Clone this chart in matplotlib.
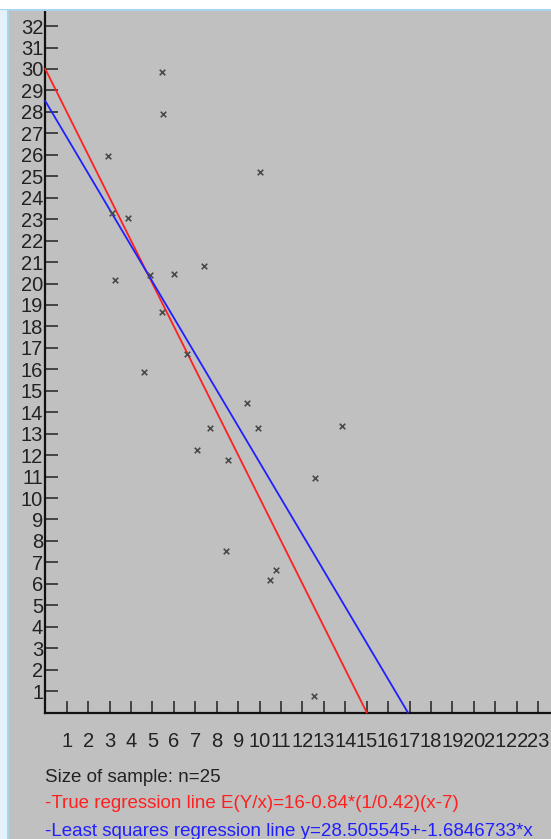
import matplotlib
matplotlib.use("Agg")
import matplotlib.pyplot as plt
from matplotlib.patches import Rectangle

plt.rcParams['font.family'] = ['Liberation Sans', 'DejaVu Sans']

# sample points
xs = [2.94, 3.10, 3.87, 3.25, 5.43, 5.51, 10.02, 6.01, 7.41, 4.89, 5.43, 6.60,
      4.61, 9.43, 7.69, 9.94, 7.09, 8.54, 13.86, 12.59, 8.43, 10.77, 10.49, 12.55]
ys = [25.94, 23.27, 23.07, 20.16, 29.85, 27.90, 25.18, 20.43, 20.83, 20.40, 18.66, 16.70,
      15.86, 14.42, 13.25, 13.25, 12.24, 11.77, 13.36, 10.92, 7.54, 6.65, 6.18, 0.77]

# regression lines (end points on the axes)
true_x = [0, 15.0]
true_y = [30.0, 0]
ls_x = [0, 16.92]
ls_y = [28.505545, 0]

x_ticks = list(range(1, 24))
y_ticks = list(range(1, 33))

caption = "Size of sample: n=25"
true_label = "-True regression line E(Y/x)=16-0.84*(1/0.42)(x-7)"
ls_label = "-Least squares regression line y=28.505545+-1.6846733*x"

W, H = 551, 839
fig = plt.figure(figsize=(W / 100, H / 100), dpi=100)
fig.patch.set_facecolor('#c0c0c0')

# window frame bits
fig.patches.append(Rectangle((0, 1 - 10 / H), 1, 10 / H, transform=fig.transFigure,
                             facecolor='white', edgecolor='none', zorder=0))
fig.patches.append(Rectangle((0, 1 - 11 / H), 1, 1.5 / H, transform=fig.transFigure,
                             facecolor='#a9d3ef', edgecolor='none', zorder=0))
fig.patches.append(Rectangle((0, 0), 7 / W, 1 - 10 / H, transform=fig.transFigure,
                             facecolor='#e4f1fb', edgecolor='none', zorder=0))
fig.patches.append(Rectangle((7 / W, 0), 1.5 / W, 1 - 10 / H, transform=fig.transFigure,
                             facecolor='#a9d3ef', edgecolor='none', zorder=0))

x0, y0 = 45.3, 712.5
ax = fig.add_axes([x0 / W, (H - y0) / H, (W - x0) / W, (y0 - 11) / H])
ax.set_facecolor('none')
ax.set_xlim(0, (W - x0) / 21.43)
ax.set_ylim(0, (y0 - 11) / 21.45)

for s in ['top', 'right']:
    ax.spines[s].set_visible(False)
for s in ['left', 'bottom']:
    ax.spines[s].set_linewidth(1.6)
    ax.spines[s].set_color('#111111')

ax.set_xticks(x_ticks)
ax.set_yticks(y_ticks)
ax.tick_params(axis='both', direction='in', length=9, width=1.1, color='#222222',
               labelsize=14.5, labelcolor='#222222')
ax.tick_params(axis='x', pad=14)
ax.tick_params(axis='y', pad=1.5)

ax.plot(true_x, true_y, color='#ff2020', lw=1.3, clip_on=False, zorder=3)
ax.plot(ls_x, ls_y, color='#2020ff', lw=1.3, clip_on=False, zorder=3)
ax.scatter(xs, ys, marker='x', s=16, linewidths=1.2, color='#4a4a4a', zorder=4)

fig.text(x0 / W, 1 - 777 / H, caption, fontsize=13.5, color='#222222', va='center', ha='left')
fig.text(x0 / W, 1 - 804 / H, true_label, fontsize=13.5, color='#ff2020', va='center', ha='left')
fig.text(x0 / W, 1 - 831 / H, ls_label, fontsize=13.5, color='#2020ff', va='center', ha='left')

fig.savefig('out.png', dpi=100, facecolor=fig.get_facecolor())
